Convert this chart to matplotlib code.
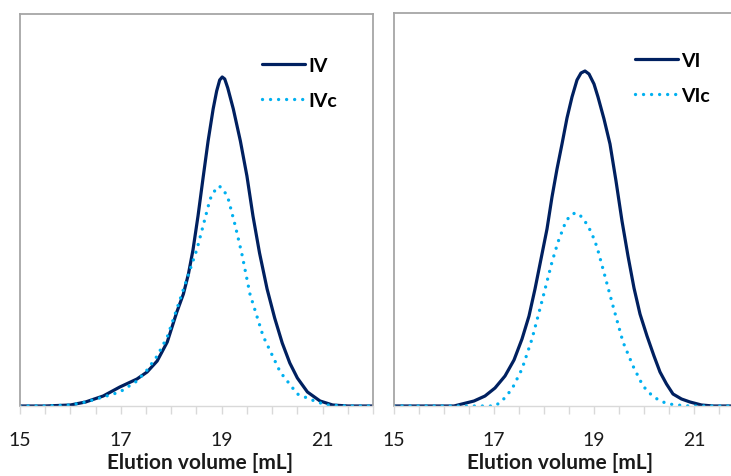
import matplotlib
matplotlib.use("Agg")
import matplotlib.pyplot as plt
from matplotlib.ticker import MultipleLocator, FixedLocator

plt.rcParams['font.family'] = ['Lato', 'DejaVu Sans']

# ---- data (elution volume [mL], detector signal, arbitrary units) ----
iv_x = [15.0, 15.5, 16.0, 16.3, 16.65, 16.98, 17.32, 17.52, 17.72, 17.92, 18.11, 18.24,
        18.34, 18.43, 18.53, 18.63, 18.73, 18.83, 18.9, 18.96, 19.01, 19.06, 19.12, 19.23,
        19.37, 19.5, 19.62, 19.75, 19.9, 20.05, 20.2, 20.35, 20.5, 20.7, 20.95, 21.2, 21.5, 22.0]
iv_y = [0, 0, 1, 4, 10, 19, 27, 34, 45, 64, 94, 112,
        132, 156, 190, 228, 265, 297, 315, 326, 329, 327, 318, 297,
        265, 230, 190, 153, 117, 88, 63, 43, 28, 14, 5, 1, 0, 0]

ivc_x = [15.0, 15.5, 16.0, 16.3, 16.65, 16.98, 17.32, 17.52, 17.72, 17.92, 18.11, 18.31,
         18.51, 18.63, 18.77, 18.87, 18.95, 19.04, 19.13, 19.27, 19.4, 19.56, 19.82,
         20.16, 20.5, 20.89, 21.1, 21.5, 22.0]
ivc_y = [0, 0, 1, 4, 9, 14, 25, 36, 50, 69, 97, 127,
         157, 180, 207, 216, 220, 216, 207, 180, 152, 112, 70,
         34, 12, 4, 1, 0, 0]

vi_x = [15.0, 16.0, 16.2, 16.36, 16.6, 16.82, 17.02, 17.22, 17.4, 17.56, 17.7, 17.82,
        17.96, 18.06, 18.16, 18.26, 18.36, 18.46, 18.56, 18.66, 18.74, 18.82, 18.9, 19.0,
        19.08, 19.2, 19.32, 19.44, 19.56, 19.68, 19.8, 19.92, 20.06, 20.2, 20.32, 20.45,
        20.58, 20.75, 20.92, 21.15, 21.38, 22.0]
vi_y = [0, 0, 0, 2, 5, 10, 18, 30, 46, 67, 90, 117,
        152, 177, 209, 237, 262, 288, 309, 326, 333, 335, 332, 322,
        309, 287, 262, 225, 185, 150, 118, 92, 70, 50, 34, 22,
        12, 7, 4, 1, 0, 0]

vic_x = [15.0, 16.5, 17.02, 17.16, 17.36, 17.56, 17.76, 17.96, 18.16, 18.28, 18.44, 18.54,
         18.62, 18.7, 18.8, 18.88, 18.96, 19.06, 19.18, 19.38, 19.58, 19.78, 19.98, 20.15,
         20.32, 20.5, 20.66, 20.9, 22.0]
vic_y = [0, 0, 0, 5, 17, 37, 67, 105, 144, 164, 185, 191,
         193, 192, 186, 180, 172, 159, 137, 100, 64, 40, 20, 11,
         5, 2, 1, 0, 0]

labels_left = ["IV", "IVc"]
labels_right = ["VI", "VIc"]
x_major = [15, 17, 19, 21]

DARK = "#002060"
LIGHT = "#00B0F0"

W, H = 731, 477
fig = plt.figure(figsize=(W / 100, H / 100), dpi=100)

ax1 = fig.add_axes([20 / W, 1 - 407 / H, 353 / W, 392 / H])
ax2 = fig.add_axes([394 / W, 1 - 407 / H, 350 / W, 393 / H])

def style(ax, xs_solid, ys_solid, xs_dot, ys_dot, labels, ytop, label_x, leg_anchor):
    ax.plot(xs_solid, ys_solid, color=DARK, lw=2.3, solid_capstyle='round',
            solid_joinstyle='round', label=labels[0])
    ax.plot(xs_dot, ys_dot, color=LIGHT, lw=2.4, linestyle=(0, (0.01, 2.4)),
            dash_capstyle='round', label=labels[1])
    ax.set_xlim(15, 22)
    ax.set_ylim(0, ytop)
    ax.xaxis.set_major_locator(FixedLocator(x_major))
    ax.xaxis.set_minor_locator(MultipleLocator(0.5))
    ax.set_yticks([])
    ax.tick_params(axis='x', which='both', length=6, width=1, color='#D9D9D9',
                   direction='out')
    ax.tick_params(axis='x', which='major', labelsize=14, pad=12, labelcolor='#1a1a1a')
    for s in ['top', 'left', 'right']:
        ax.spines[s].set_color('#A6A6A6')
        ax.spines[s].set_linewidth(1.3)
    ax.spines['bottom'].set_color('#D9D9D9')
    ax.spines['bottom'].set_linewidth(1)
    ax.set_xlabel("Elution volume [mL]", fontsize=15, fontweight='bold', color='#1a1a1a')
    ax.xaxis.set_label_coords(label_x, -0.118)
    leg = ax.legend(loc='upper left', bbox_to_anchor=leg_anchor, frameon=False,
                    prop={'weight': 'bold', 'size': 14}, handlelength=2.2,
                    handletextpad=0.2, labelspacing=0.95, borderaxespad=0)
    for t in leg.get_texts():
        t.set_color('#000000')

style(ax1, iv_x, iv_y, ivc_x, ivc_y, labels_left, 392, 0.51, (234 / 353, 1 - 35 / 392))
style(ax2, vi_x, vi_y, vic_x, vic_y, labels_right, 393, 0.474, (233 / 350, 1 - 31 / 393))

fig.savefig("out.png", dpi=100)
